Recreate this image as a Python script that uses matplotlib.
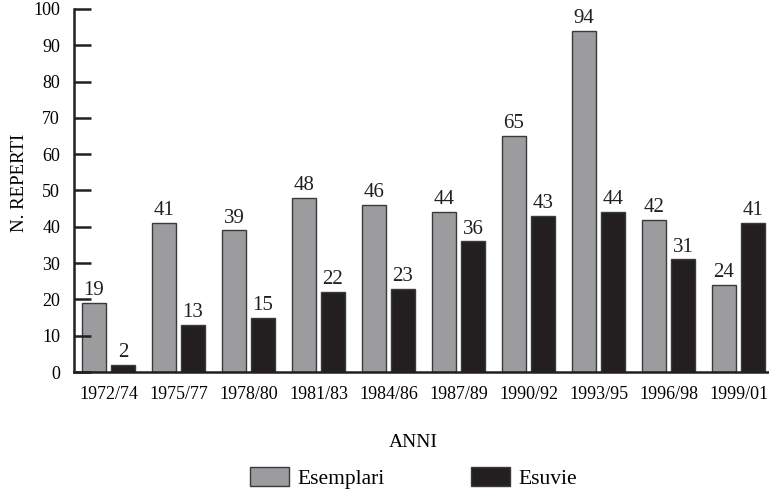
import matplotlib
matplotlib.use("Agg")
import matplotlib.pyplot as plt
import numpy as np

# Data
periods = ["1972/74", "1975/77", "1978/80", "1981/83", "1984/86",
           "1987/89", "1990/92", "1993/95", "1996/98", "1999/01"]
esemplari = [19, 41, 39, 48, 46, 44, 65, 94, 42, 24]
esuvie = [2, 13, 15, 22, 23, 36, 43, 44, 31, 41]

plt.rcParams["font.family"] = ["Liberation Serif", "DejaVu Serif"]

fig = plt.figure(figsize=(7.69, 4.98), dpi=100)
ax = fig.add_axes([0.0962, 0.253, 0.9038, 0.729])

x = np.arange(len(periods))
width = 0.33
offset = 0.207

gray = "#9c9c9e"
black = "#231f20"
edge = "#3a3a3a"

b1 = ax.bar(x - offset, esemplari, width, color=gray, edgecolor=edge,
            linewidth=1.0, label="Esemplari")
b2 = ax.bar(x + offset, esuvie, width, color=black, edgecolor=edge,
            linewidth=1.0, label="Esuvie")

ax.bar_label(b1, padding=2, fontsize=15, color="#231f20")
ax.bar_label(b2, padding=2, fontsize=15, color="#231f20")

ax.set_xlim(-0.493, 9.436)
ax.set_ylim(0, 100)
ax.set_yticks(np.arange(0, 101, 10))
ax.set_xticks(x)
ax.set_xticklabels(periods)

# Axis styling
for side in ["top", "right"]:
    ax.spines[side].set_visible(False)
for side in ["left", "bottom"]:
    ax.spines[side].set_linewidth(1.8)
    ax.spines[side].set_color("#231f20")

ax.tick_params(axis="y", direction="in", length=12, width=1.8,
               labelsize=13, pad=10, color="#231f20")
ax.tick_params(axis="x", length=0, labelsize=13, pad=10)

ax.set_ylabel("N. REPERTI", fontsize=13.5)
ax.yaxis.set_label_coords(-0.066, 0.52)
ax.set_xlabel("ANNI", fontsize=14)
ax.xaxis.set_label_coords(0.488, -0.17)

fig.legend(handles=[b1, b2], loc="center", bbox_to_anchor=(0.538, 0.04),
           ncol=2, frameon=False, fontsize=15.5, handlelength=1.8,
           handleheight=1.0, handletextpad=0.4, columnspacing=4.0)

fig.savefig("out.png", dpi=100)
